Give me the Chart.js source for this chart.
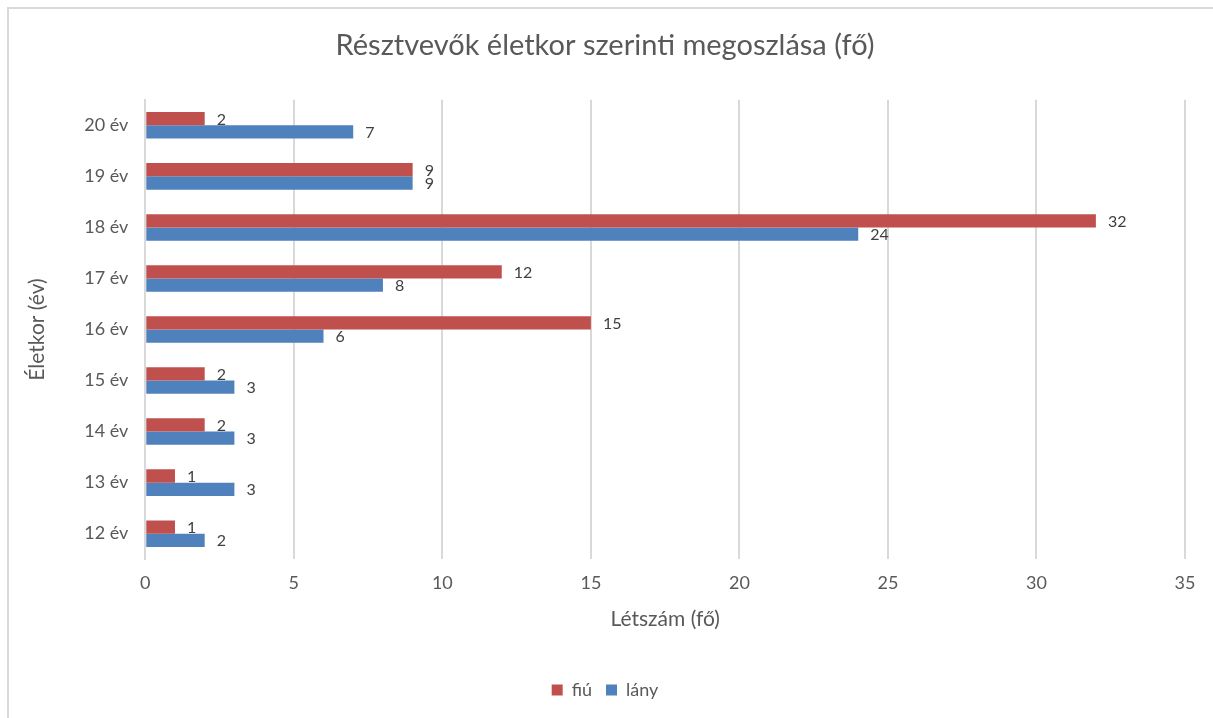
<!DOCTYPE html>
<html>
<head>
<meta charset="utf-8">
<script src="https://cdn.jsdelivr.net/npm/chart.js@4"></script>
<style>
  html, body { margin: 0; padding: 0; background: #fff; }
  #wrap { width: 1213px; height: 718px; }
</style>
</head>
<body>
<div id="wrap"><canvas id="ageChart" width="1213" height="718"></canvas></div>
<script>
// chart data (top to bottom as shown)
const ages = ['20 év', '19 év', '18 év', '17 év', '16 év', '15 év', '14 év', '13 év', '12 év'];
const boys = [2, 9, 32, 12, 15, 2, 2, 1, 1];    // fiú
const girls = [7, 9, 24, 8, 6, 3, 3, 3, 2];     // lány
const xTicks = [0, 5, 10, 15, 20, 25, 30, 35];

const FONT = 'Lato, "Open Sans", sans-serif';

// frame around the chart
const framePlugin = {
  id: 'frame',
  beforeDraw(chart) {
    const ctx = chart.ctx;
    ctx.save();
    ctx.fillStyle = '#fff';
    ctx.fillRect(0, 0, chart.width, chart.height);
    ctx.strokeStyle = '#d9d9d9';
    ctx.lineWidth = 2;
    ctx.strokeRect(8, 8, chart.width + 20, chart.height + 20);
    ctx.restore();
  }
};

// value labels at the end of the bars
const valueLabels = {
  id: 'valueLabels',
  afterDatasetsDraw(chart) {
    const ctx = chart.ctx;
    ctx.save();
    ctx.font = '16px ' + FONT;
    ctx.fillStyle = '#404040';
    ctx.textAlign = 'left';
    ctx.textBaseline = 'middle';
    chart.data.datasets.forEach((ds, i) => {
      const meta = chart.getDatasetMeta(i);
      meta.data.forEach((bar, j) => {
        ctx.fillText(ds.data[j], bar.x + 12, bar.y + 1);
      });
    });
    ctx.restore();
  }
};

const ctx = document.getElementById('ageChart').getContext('2d');
new Chart(ctx, {
  type: 'bar',
  data: {
    labels: ages,
    datasets: [
      {
        label: 'fiú',
        data: boys,
        backgroundColor: '#C0504D',
        categoryPercentage: 0.52,
        barPercentage: 1.0
      },
      {
        label: 'lány',
        data: girls,
        backgroundColor: '#4F81BD',
        categoryPercentage: 0.52,
        barPercentage: 1.0
      }
    ]
  },
  options: {
    indexAxis: 'y',
    responsive: false,
    animation: false,
    layout: { padding: { top: 28, left: 25, right: 28, bottom: 9 } },
    plugins: {
      title: {
        display: true,
        text: 'Résztvevők életkor szerinti megoszlása (fő)',
        color: '#595959',
        font: { family: FONT, size: 29, weight: 'normal' },
        padding: { top: 0, bottom: 37 }
      },
      legend: {
        position: 'bottom',
        labels: {
          color: '#595959',
          font: { family: FONT, size: 18 },
          boxWidth: 11,
          boxHeight: 11,
          padding: 14
        }
      },
      tooltip: { enabled: false }
    },
    scales: {
      x: {
        min: 0,
        max: 35,
        afterBuildTicks(axis) {
          axis.ticks = xTicks.map(v => ({ value: v }));
        },
        grid: { color: '#d9d9d9', lineWidth: 2, drawTicks: false },
        border: { display: false },
        ticks: {
          color: '#595959',
          font: { family: FONT, size: 18 },
          padding: 13
        },
        title: {
          display: true,
          text: 'Létszám (fő)',
          color: '#595959',
          font: { family: FONT, size: 21 },
          padding: { top: 0, bottom: 35 }
        }
      },
      y: {
        grid: { display: false, drawTicks: false },
        border: { display: true, color: '#d9d9d9', width: 2 },
        ticks: {
          color: '#595959',
          font: { family: FONT, size: 18 },
          padding: 17
        },
        title: {
          display: true,
          text: 'Életkor (év)',
          color: '#595959',
          font: { family: FONT, size: 21 },
          padding: { top: 0, bottom: 17 }
        }
      }
    }
  },
  plugins: [framePlugin, valueLabels]
});
</script>
</body>
</html>
